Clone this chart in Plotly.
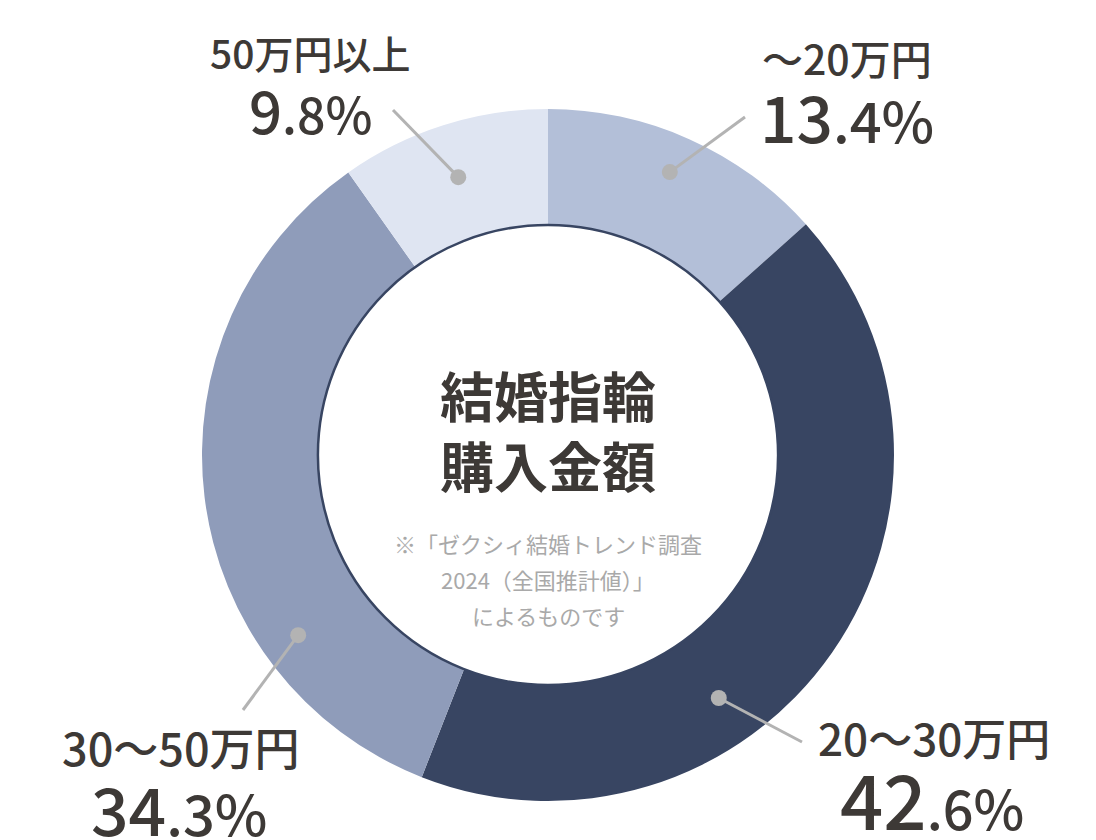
import math
import plotly.graph_objects as go

# データ(ゼクシィ結婚トレンド調査2024 結婚指輪購入金額)
labels = ['～20万円', '20～30万円', '30～50万円', '50万円以上']
values = [13.4, 42.6, 34.3, 9.8]
colors = ['#b3bfd8', '#384562', '#8f9cba', '#dfe5f2']

center_title = ['結婚指輪', '購入金額']
note_lines = ['※「ゼクシィ結婚トレンド調査', '2024（全国推計値）」', 'によるものです']

# レイアウト(ピクセル座標)
W, H = 1096, 840
cx, cy, R = 548, 455, 346
hole = 0.665

# ラベル配置: ドットの角度/半径, 線の端点, テキスト位置, 文字サイズ
dot_ang = [23.3, 144.9, 234.2, 342.1]
dot_r = [308, 297, 308, 292]
line_end = [(745, 117), (802, 742), (243, 710), (393, 110)]
cat_pos = [(847, 57), (934, 737), (181, 746), (310, 52)]
pct_pos = [(847, 115), (932, 797), (179, 807), (310, 109)]
cat_size = [41, 44, 45, 39]
pct_size = [(64, 56), (76, 54), (66, 56), (58, 50)]

text_color = '#3d3936'
font_jp = 'Noto Sans CJK JP'

fig = go.Figure()

fig.add_trace(go.Pie(
    labels=labels,
    values=values,
    marker=dict(colors=colors, line=dict(width=0)),
    hole=hole,
    sort=False,
    direction='clockwise',
    rotation=0,
    textinfo='none',
    hoverinfo='label+percent',
    showlegend=False,
    domain=dict(x=[(cx - R) / W, (cx + R) / W],
                y=[(H - cy - R) / H, (H - cy + R) / H]),
))

shapes = [dict(
    type='circle', xref='x', yref='y',
    x0=cx - R * hole, x1=cx + R * hole,
    y0=cy - R * hole, y1=cy + R * hole,
    line=dict(color='#384562', width=2.5),
    layer='above',
)]

# 引き出し線とドット
for i in range(len(values)):
    a = math.radians(dot_ang[i])
    dx = cx + dot_r[i] * math.sin(a)
    dy = cy - dot_r[i] * math.cos(a)
    ex, ey = line_end[i]
    shapes.append(dict(
        type='line', xref='x', yref='y',
        x0=dx, y0=dy, x1=ex, y1=ey,
        line=dict(color='#b3b3b3', width=3), layer='above',
    ))
    shapes.append(dict(
        type='circle', xref='x', yref='y',
        x0=dx - 8, x1=dx + 8, y0=dy - 8, y1=dy + 8,
        fillcolor='#b3b3b3', line=dict(width=0), layer='above',
    ))

annotations = []
for i, (lab, val) in enumerate(zip(labels, values)):
    annotations.append(dict(
        x=cat_pos[i][0], y=cat_pos[i][1], xref='x', yref='y',
        text=lab, showarrow=False, xanchor='center', yanchor='middle',
        font=dict(family=font_jp, size=cat_size[i], color=text_color, weight=500),
    ))
    s = f'{val:.1f}'
    ip, dp = s.split('.')
    big, small = pct_size[i]
    annotations.append(dict(
        x=pct_pos[i][0], y=pct_pos[i][1], xref='x', yref='y',
        text=f"{ip}<span style='font-size:{small}px'>.{dp}%</span>",
        showarrow=False, xanchor='center', yanchor='middle',
        font=dict(family=font_jp, size=big, color=text_color, weight=500),
    ))

# 中央のタイトル
for k, t in enumerate(center_title):
    annotations.append(dict(
        x=cx, y=394 + k * 70, xref='x', yref='y',
        text=f'<b>{t}</b>', showarrow=False,
        font=dict(family=font_jp, size=54, color=text_color),
    ))

# 注記
for k, t in enumerate(note_lines):
    annotations.append(dict(
        x=cx, y=543 + k * 36, xref='x', yref='y',
        text=t, showarrow=False,
        font=dict(family=font_jp, size=22, color='#a9a9a9'),
    ))

fig.update_layout(
    width=W, height=H,
    margin=dict(l=0, r=0, t=0, b=0),
    paper_bgcolor='white',
    plot_bgcolor='rgba(0,0,0,0)',
    xaxis=dict(range=[0, W], visible=False, fixedrange=True),
    yaxis=dict(range=[H, 0], visible=False, fixedrange=True),
    annotations=annotations,
    shapes=shapes,
)

fig.write_html('out.html', config={'displayModeBar': False},
               post_script="document.body.style.margin='0';")
